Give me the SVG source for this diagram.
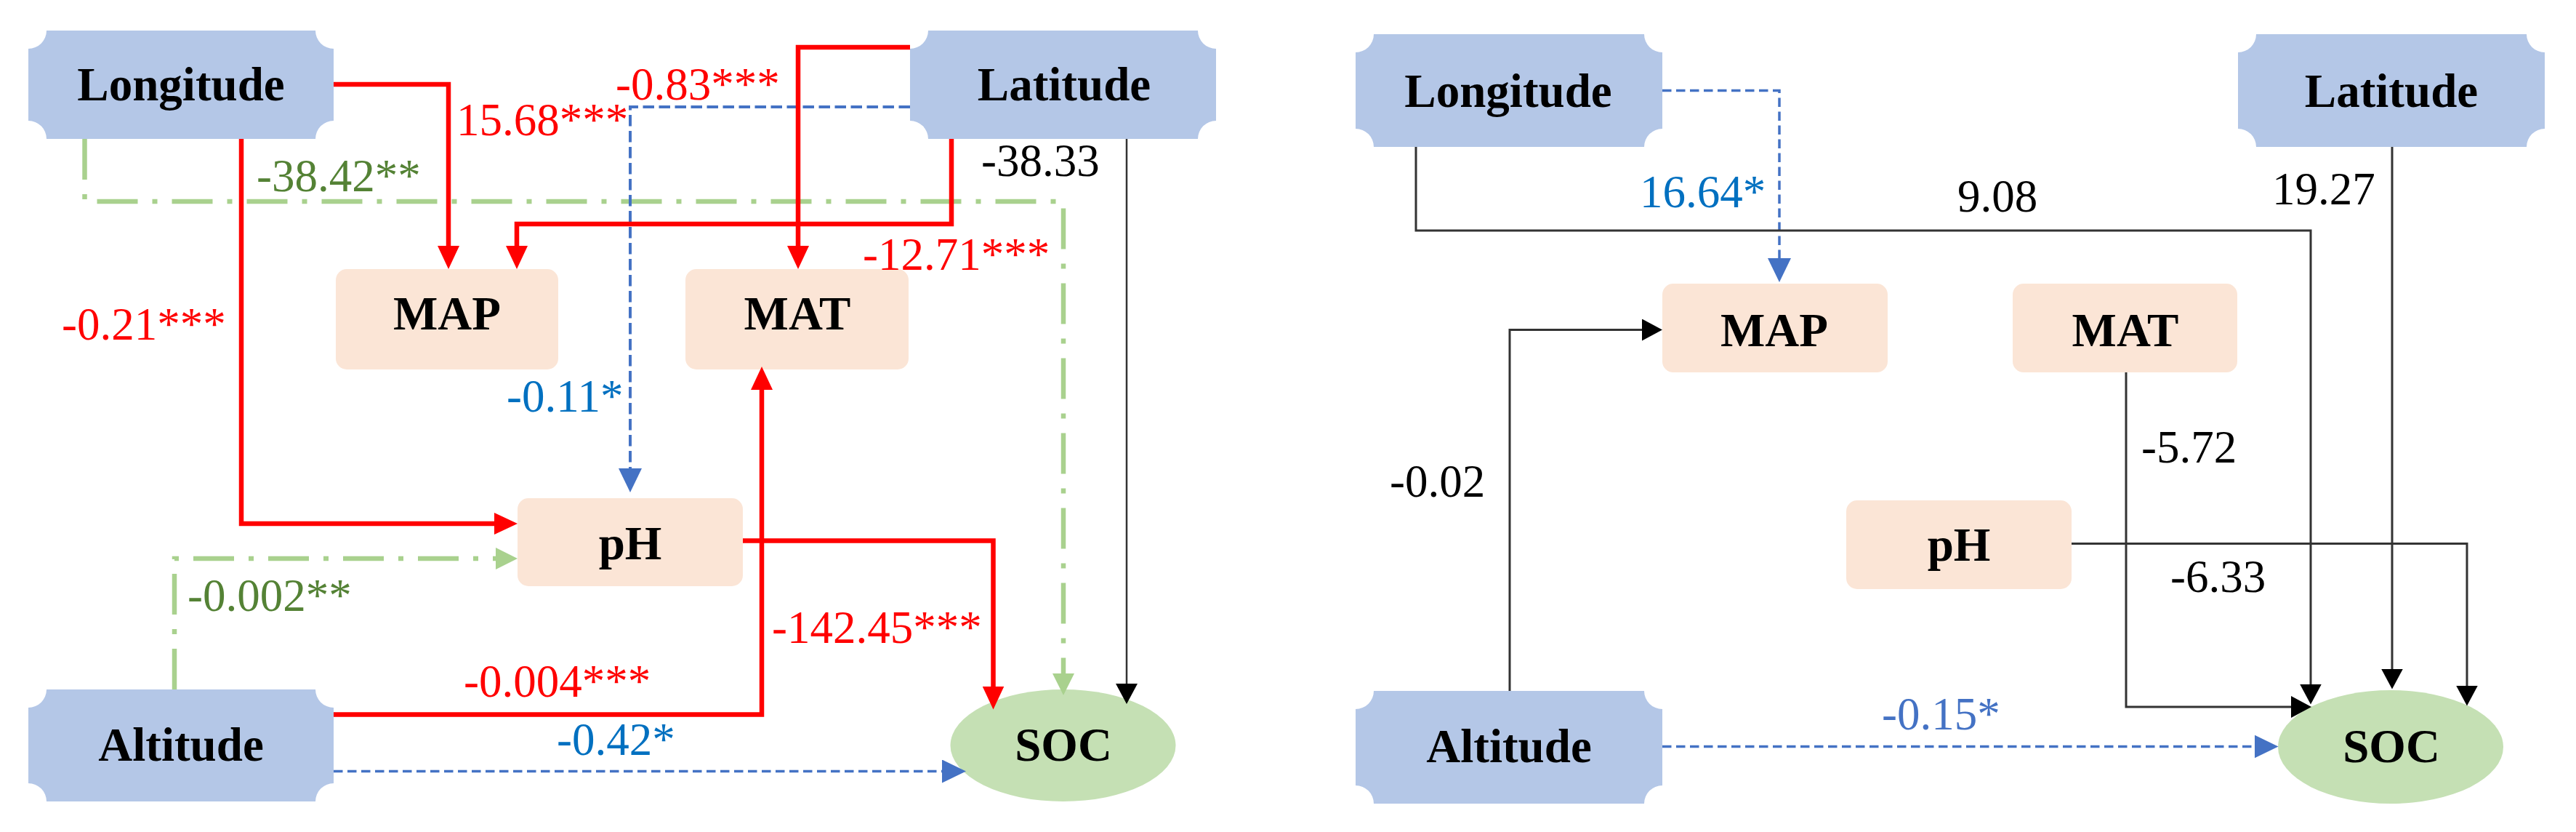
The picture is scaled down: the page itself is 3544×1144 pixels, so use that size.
<svg xmlns="http://www.w3.org/2000/svg" width="3544" height="1144" viewBox="0 0 3544 1144">
<style>
text{font-family:'Liberation Serif','Times New Roman',serif}
.nt{font-size:65px;font-weight:bold;fill:#000;text-anchor:middle}
.lb{font-size:63px}
.plaque{fill:#B4C7E7}
.box{fill:#FBE5D6}
.soc{fill:#C5E0B4}
.red{fill:none;stroke:#FF0000;stroke-width:6.5;marker-end:url(#aR)}
.grn{fill:none;stroke:#A9D18E;stroke-width:6.5;stroke-dasharray:56 20 7 20;marker-end:url(#aG)}
.blu1{fill:none;stroke:#4472C4;stroke-width:4;stroke-dasharray:15.5 6.5;marker-end:url(#aB)}
.blu2{fill:none;stroke:#4472C4;stroke-width:3.5;stroke-dasharray:12.5 6.5;marker-end:url(#aB)}
.blk{fill:none;stroke:#333;stroke-width:3;marker-end:url(#aK)}
.cr{fill:#FF0000}.cg{fill:#548235}.cb{fill:#0070C0}.cb2{fill:#4472C4}.ck{fill:#000}
</style>
<defs>
<marker id="aR" markerUnits="userSpaceOnUse" orient="auto" markerWidth="32" markerHeight="30" refX="22" refY="15"><path d="M0,0 L32,15 L0,30 z" fill="#FF0000"/></marker>
<marker id="aB" markerUnits="userSpaceOnUse" orient="auto" markerWidth="33" markerHeight="32" refX="23" refY="16"><path d="M0,0 L33,16 L0,32 z" fill="#4472C4"/></marker>
<marker id="aG" markerUnits="userSpaceOnUse" orient="auto" markerWidth="30" markerHeight="30" refX="20" refY="15"><path d="M0,0 L30,15 L0,30 z" fill="#A9D18E"/></marker>
<marker id="aK" markerUnits="userSpaceOnUse" orient="auto" markerWidth="28" markerHeight="30" refX="18" refY="15"><path d="M0,0 L28,15 L0,30 z" fill="#000"/></marker>
</defs>
<rect width="3544" height="1144" fill="#fff"/>

<g id="nodes">
<!-- left panel -->
<g id="L-longitude"><path class="plaque" d="M64,42 H434 A25,25 0 0 0 459,67 V166 A25,25 0 0 0 434,191 H64 A25,25 0 0 0 39,166 V67 A25,25 0 0 0 64,42 Z"/><text class="nt" x="249" y="138">Longitude</text></g>
<g id="L-latitude"><path class="plaque" d="M1277,42 H1648 A25,25 0 0 0 1673,67 V166 A25,25 0 0 0 1648,191 H1277 A25,25 0 0 0 1252,166 V67 A25,25 0 0 0 1277,42 Z"/><text class="nt" x="1464" y="138">Latitude</text></g>
<g id="L-altitude"><path class="plaque" d="M64,948 H434 A25,25 0 0 0 459,973 V1077 A25,25 0 0 0 434,1102 H64 A25,25 0 0 0 39,1077 V973 A25,25 0 0 0 64,948 Z"/><text class="nt" x="249" y="1046">Altitude</text></g>
<g id="L-map"><rect class="box" x="462" y="370" width="306" height="138" rx="15"/><text class="nt" x="615" y="453">MAP</text></g>
<g id="L-mat"><rect class="box" x="943" y="370" width="307" height="138" rx="15"/><text class="nt" x="1097" y="453">MAT</text></g>
<g id="L-ph"><rect class="box" x="712" y="685" width="310" height="121" rx="15"/><text class="nt" x="867" y="769">pH</text></g>
<g id="L-soc"><ellipse class="soc" cx="1462.5" cy="1025" rx="155" ry="77"/><text class="nt" x="1463" y="1046">SOC</text></g>
<!-- right panel -->
<g id="R-longitude"><path class="plaque" d="M1890,47 H2262 A25,25 0 0 0 2287,72 V177 A25,25 0 0 0 2262,202 H1890 A25,25 0 0 0 1865,177 V72 A25,25 0 0 0 1890,47 Z"/><text class="nt" x="2075" y="147">Longitude</text></g>
<g id="R-latitude"><path class="plaque" d="M3104,47 H3476 A25,25 0 0 0 3501,72 V177 A25,25 0 0 0 3476,202 H3104 A25,25 0 0 0 3079,177 V72 A25,25 0 0 0 3104,47 Z"/><text class="nt" x="3290" y="147">Latitude</text></g>
<g id="R-altitude"><path class="plaque" d="M1890,950 H2262 A25,25 0 0 0 2287,975 V1080 A25,25 0 0 0 2262,1105 H1890 A25,25 0 0 0 1865,1080 V975 A25,25 0 0 0 1890,950 Z"/><text class="nt" x="2076" y="1048">Altitude</text></g>
<g id="R-map"><rect class="box" x="2287" y="390" width="310" height="122" rx="15"/><text class="nt" x="2441" y="476">MAP</text></g>
<g id="R-mat"><rect class="box" x="2769" y="390" width="309" height="122" rx="15"/><text class="nt" x="2924" y="476">MAT</text></g>
<g id="R-ph"><rect class="box" x="2540" y="688" width="310" height="122" rx="15"/><text class="nt" x="2695" y="771">pH</text></g>
<g id="R-soc"><ellipse class="soc" cx="3289" cy="1027" rx="155" ry="78"/><text class="nt" x="3290" y="1048">SOC</text></g>
</g>

<g id="connectors">
<!-- left panel -->
<path class="grn" d="M116.5,191 V277 H1463 V946"/>
<path class="grn" d="M240,948 V768 H702"/>
<path class="blu1" d="M1252,147 H867 V667"/>
<path class="blu2" d="M459,1060.5 H1319"/>
<path class="red" d="M459,116 H617 V360"/>
<path class="red" d="M1309,191 V308 H711 V360"/>
<path class="red" d="M1252,65 H1098 V360"/>
<path class="red" d="M332,191 V720 H702"/>
<path class="red" d="M1022,743.5 H1366.5 V965.5"/>
<path class="red" d="M459,982.5 H1048 V514"/>
<path class="blk" style="stroke-width:2.5" d="M1550,191 V958"/>
<!-- right panel -->
<path class="blu2" d="M2287,124.5 H2448 V378"/>
<path class="blu2" d="M2287,1026.5 H3124.5"/>
<path class="blk" d="M1948,202 V317 H3179 V958.5"/>
<path class="blk" d="M3291,202 V937.5"/>
<path class="blk" d="M2925,512 V972 H3170"/>
<path class="blk" d="M2850,747.5 H3394 V960.5"/>
<path class="blk" d="M2077,950 V453.5 H2277"/>
</g>

<g id="labels">
<text class="lb cr" x="628" y="186">15.68***</text>
<text class="lb cr" x="847" y="137">-0.83***</text>
<text class="lb cg" x="353" y="263">-38.42**</text>
<text class="lb ck" x="1350" y="242">-38.33</text>
<text class="lb cr" x="1187" y="371">-12.71***</text>
<text class="lb cr" x="85" y="467">-0.21***</text>
<text class="lb cb" x="697" y="566">-0.11*</text>
<text class="lb cg" x="258" y="840">-0.002**</text>
<text class="lb cr" x="1062" y="884">-142.45***</text>
<text class="lb cr" x="638" y="958">-0.004***</text>
<text class="lb cb" x="766" y="1038">-0.42*</text>
<text class="lb cb" x="2256" y="285">16.64*</text>
<text class="lb ck" x="2693" y="291">9.08</text>
<text class="lb ck" x="3126" y="281">19.27</text>
<text class="lb ck" x="1912" y="683">-0.02</text>
<text class="lb ck" x="2946" y="636">-5.72</text>
<text class="lb ck" x="2986" y="814">-6.33</text>
<text class="lb cb2" x="2589" y="1003">-0.15*</text>
</g>
</svg>
